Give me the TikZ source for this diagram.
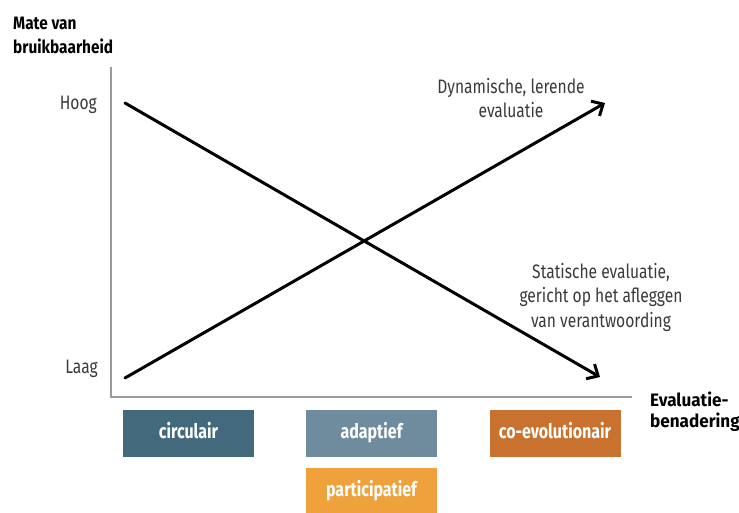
\documentclass[tikz,border=0pt]{standalone}
\usepackage{graphicx}
\usepackage{fontspec}
\setmainfont{Fira Sans}[FakeStretch=0.8]
\newfontfamily\headfont{Fira Sans}[FakeStretch=0.95]
\usetikzlibrary{arrows.meta}
\definecolor{axisgray}{HTML}{9A9A9A}
\definecolor{darkteal}{HTML}{436A7C}
\definecolor{greyblue}{HTML}{6E8C9E}
\definecolor{rust}{HTML}{C9722F}
\definecolor{amber}{HTML}{EFA23C}
\definecolor{txt}{HTML}{3A3A3A}
\tikzset{
  axis/.style={draw=axisgray, line width=2.2pt},
  trend/.style={draw=black, line width=3pt, line cap=round,
    -{Straight Barb[length=9pt, width=17pt, line width=3pt]}},
  label/.style={text=txt, font=\fontsize{19.5}{24.5}\selectfont, align=center, inner sep=0pt},
  heading/.style={text=black, inner sep=0pt, align=left, anchor=north west},
  tag/.style={minimum width=131pt, minimum height=47pt, inner sep=0pt,
    text=white, text height=14pt, text depth=4pt,
    font=\fontsize{20}{22}\selectfont\bfseries},
}
\begin{document}
\begin{tikzpicture}[x=1pt, y=-1pt]
\clip (0,0) rectangle (739,512);
% axes
\coordinate (top) at (111,67);
\coordinate (origin) at (111,397);
\coordinate (xend) at (632,397);
\draw[axis] (top) -- (origin) -- (xend);
% trends
\coordinate (hs) at (125,103);
\coordinate (he) at (600,377);
\coordinate (ls) at (125,378);
\coordinate (le) at (605,103);
\draw[trend] (hs) -- (he);
\draw[trend] (ls) -- (le);
% axis labels
\node[heading] (ylab) at (13,12)
  {\scalebox{0.9}[1]{\fontsize{18}{24}\selectfont\headfont\bfseries
   \begin{tabular}{@{}l@{}}Mate van\\bruikbaarheid\end{tabular}}};
\node[heading, font=\fontsize{18}{21}\selectfont\headfont\bfseries] (xlab) at (650,392)
  {Evaluatie-\\benadering};
\node[label, anchor=east] (hoog) at (97,105) {Hoog};
\node[label, anchor=east] (laag) at (98,369) {Laag};
% trend labels
\node[label] (dyn) at (511,98) {Dynamische, lerende\\evaluatie};
\node[label] (stat) at (601,297) {Statische evaluatie,\\gericht op het afleggen\\van verantwoording};
% approaches
\node[tag, fill=darkteal] (circ) at (188.5,433.5) {circulair};
\node[tag, fill=greyblue] (adap) at (371.5,433.5) {adaptief};
\node[tag, fill=rust] (coev) at (555,433.5) {co-evolutionair};
\node[tag, fill=amber] (part) at (371.5,491.5) {participatief};
\end{tikzpicture}
\end{document}
